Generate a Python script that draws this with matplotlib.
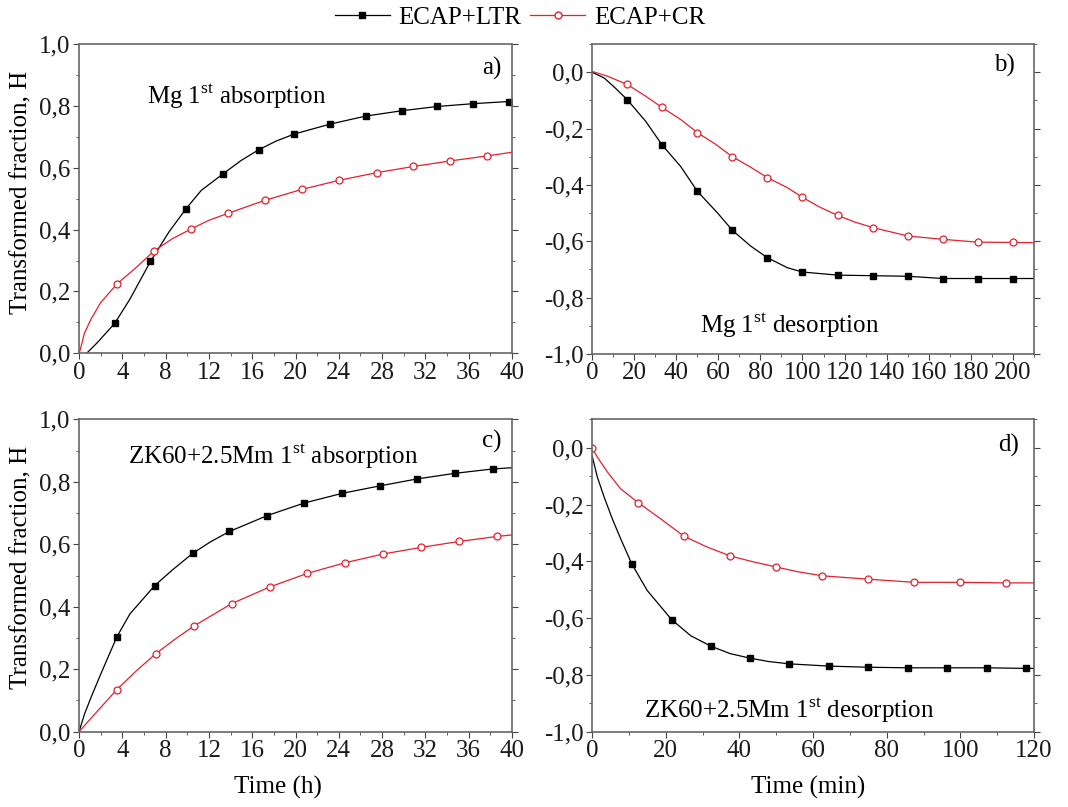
import matplotlib
matplotlib.use("Agg")
import matplotlib.pyplot as plt
from matplotlib.ticker import MultipleLocator, FuncFormatter
from matplotlib.lines import Line2D

plt.rcParams["font.family"] = ["Liberation Serif", "DejaVu Serif"]
plt.rcParams["mathtext.fontset"] = "custom"
plt.rcParams["mathtext.rm"] = "Liberation Serif"
plt.rcParams["font.size"] = 18

BLACK = "black"
RED = "#e3202e"
labels = ["ECAP+LTR", "ECAP+CR"]

# a) Mg 1st absorption, time in h
a_ltr_t = [0.7, 1.7, 3.3, 4.7, 6.6, 8.3, 9.9, 11.3, 13.3, 15.0, 16.6, 18.2, 19.9, 23.2, 26.5, 29.8, 33.1, 36.4, 39.7, 40.0]
a_ltr_h = [0.0, 0.035, 0.097, 0.175, 0.297, 0.392, 0.468, 0.527, 0.58, 0.624, 0.658, 0.686, 0.709, 0.741, 0.767,
           0.784, 0.798, 0.807, 0.814, 0.815]
a_ltr_marks = [2, 4, 6, 8, 10, 12, 13, 14, 15, 16, 17, 18]
a_cr_t = [0.0, 0.1, 0.5, 1.1, 2.0, 3.5, 5.3, 6.9, 8.6, 10.3, 12.0, 13.8, 17.2, 20.6, 24.0, 27.5, 30.9, 34.3, 37.7, 40.0]
a_cr_h = [0.0, 0.01, 0.065, 0.11, 0.164, 0.224, 0.278, 0.330, 0.37, 0.401, 0.43, 0.453, 0.495, 0.530, 0.559, 0.584,
          0.604, 0.622, 0.638, 0.65]
a_cr_marks = [5, 7, 9, 11, 12, 13, 14, 15, 16, 17, 18]

# b) Mg 1st desorption, time in min
b_ltr_t = [0, 5.7, 10.5, 16.7, 25.5, 33.3, 42.2, 50, 59.6, 66.7, 75.4, 83.3, 92.9, 100, 116.7, 133.3, 150, 166.7,
           183.3, 200, 210]
b_ltr_h = [0, -0.02, -0.052, -0.097, -0.174, -0.258, -0.335, -0.422, -0.499, -0.561, -0.617, -0.658, -0.694, -0.709,
           -0.72, -0.722, -0.724, -0.732, -0.732, -0.732, -0.732]
b_ltr_marks = [3, 5, 7, 9, 11, 13, 14, 15, 16, 17, 18, 19]
b_cr_t = [0, 7.3, 16.7, 25.5, 33.3, 42.2, 50, 58.8, 66.7, 75.4, 83.3, 92.9, 100, 108, 116.7, 125, 133.3, 150, 166.7,
          183.3, 200, 210]
b_cr_h = [0.003, -0.014, -0.043, -0.085, -0.125, -0.168, -0.214, -0.256, -0.3, -0.337, -0.374, -0.41, -0.444, -0.478,
          -0.508, -0.532, -0.551, -0.581, -0.593, -0.603, -0.604, -0.605]
b_cr_marks = [2, 4, 6, 8, 10, 12, 14, 16, 17, 18, 19, 20]

# c) ZK60+2.5Mm 1st absorption, time in h
c_ltr_t = [0, 0.5, 1.1, 2.0, 3.5, 4.7, 7.0, 8.6, 10.5, 12.2, 13.9, 17.4, 20.8, 24.3, 27.8, 31.2, 34.7, 38.2, 40]
c_ltr_h = [0, 0.056, 0.109, 0.184, 0.304, 0.377, 0.468, 0.517, 0.571, 0.609, 0.641, 0.692, 0.732, 0.763, 0.787,
           0.809, 0.827, 0.841, 0.845]
c_ltr_marks = [4, 6, 8, 10, 11, 12, 13, 14, 15, 16, 17]
c_cr_t = [0, 1.7, 3.5, 5.3, 7.1, 8.9, 10.6, 14.1, 17.6, 21.1, 24.6, 28.1, 31.6, 35.1, 38.6, 40]
c_cr_h = [0, 0.066, 0.135, 0.195, 0.25, 0.297, 0.338, 0.41, 0.463, 0.507, 0.541, 0.569, 0.59, 0.609, 0.625, 0.63]
c_cr_marks = [2, 4, 6, 7, 8, 9, 10, 11, 12, 13, 14]

# d) ZK60+2.5Mm 1st desorption, time in min
d_ltr_t = [0, 1.45, 3.3, 5.5, 7.8, 10.8, 15.0, 21.6, 26.8, 32.3, 37.5, 42.9, 48, 53.5, 64.3, 75.0, 85.7, 96.3,
           107.1, 117.8, 120]
d_ltr_h = [-0.027, -0.103, -0.174, -0.25, -0.321, -0.409, -0.503, -0.605, -0.662, -0.699, -0.725, -0.741, -0.753,
           -0.761, -0.769, -0.773, -0.775, -0.775, -0.775, -0.777, -0.777]
d_ltr_marks = [5, 7, 9, 11, 13, 14, 15, 16, 17, 18, 19]
d_cr_t = [0, 1.45, 4.2, 7.8, 12.5, 18.6, 25, 31.3, 37.5, 43.5, 50, 56, 62.5, 75, 87.5, 100, 112.5, 120]
d_cr_h = [0.0, -0.033, -0.086, -0.145, -0.193, -0.25, -0.312, -0.35, -0.381, -0.401, -0.42, -0.437, -0.451, -0.463,
          -0.474, -0.474, -0.476, -0.476]
d_cr_marks = [0, 4, 6, 8, 10, 12, 13, 14, 15, 16]


def comma(v, pos):
    s = "%.1f" % v
    if s == "-0.0":
        s = "0.0"
    return s.replace(".", ",")


def style_axes(ax, xmax, xmajor, ymin, ymax):
    ax.set_xlim(0, xmax)
    ax.set_ylim(ymin, ymax)
    ax.xaxis.set_major_locator(MultipleLocator(xmajor))
    ax.xaxis.set_minor_locator(MultipleLocator(xmajor / 2))
    ax.yaxis.set_major_locator(MultipleLocator(0.2))
    ax.yaxis.set_minor_locator(MultipleLocator(0.1))
    ax.yaxis.set_major_formatter(FuncFormatter(comma))
    ax.tick_params(which="both", direction="out", right=True, top=False, colors="#444",
                   labelcolor="#1a1a1a", labelsize=18, pad=2)
    ax.tick_params(which="major", length=4)
    ax.tick_params(which="minor", length=2.5)
    for s in ax.spines.values():
        s.set_color("#666")
        s.set_linewidth(1.2)


def draw(ax, t1, h1, m1, t2, h2, m2):
    ax.plot(t1, h1, color=BLACK, lw=0.9, marker="s", ms=4.2, markevery=m1,
            mfc=BLACK, mec=BLACK)
    ax.plot(t2, h2, color=RED, lw=0.9, marker="o", ms=5, markevery=m2,
            mfc="white", mec=RED, mew=0.9)


fig = plt.figure(figsize=(10.68, 8.07), dpi=100)
ax_a = fig.add_axes([0.074, 0.5622, 0.4054, 0.3833])
ax_b = fig.add_axes([0.5543, 0.5613, 0.4139, 0.3841])
ax_c = fig.add_axes([0.074, 0.0933, 0.4054, 0.3871])
ax_d = fig.add_axes([0.5543, 0.0933, 0.4139, 0.3871])

draw(ax_a, a_ltr_t, a_ltr_h, a_ltr_marks, a_cr_t, a_cr_h, a_cr_marks)
draw(ax_b, b_ltr_t, b_ltr_h, b_ltr_marks, b_cr_t, b_cr_h, b_cr_marks)
draw(ax_c, c_ltr_t, c_ltr_h, c_ltr_marks, c_cr_t, c_cr_h, c_cr_marks)
draw(ax_d, d_ltr_t, d_ltr_h, d_ltr_marks, d_cr_t, d_cr_h, d_cr_marks)

style_axes(ax_a, 40, 4, 0, 1.0)
style_axes(ax_b, 210, 20, -1.0, 0.1)
style_axes(ax_c, 40, 4, 0, 1.0)
style_axes(ax_d, 120, 20, -1.0, 0.1)

for ax in (ax_a, ax_c):
    ax.set_ylabel("Transformed fraction, H", fontsize=18, va="center")
ax_a.yaxis.set_label_coords(-0.132, 0.519)
ax_c.yaxis.set_label_coords(-0.132, 0.527)
ax_c.set_xlabel("Time (h)", fontsize=18, va="center")
ax_c.xaxis.set_label_coords(0.459, -0.18)
ax_d.set_xlabel("Time (min)", fontsize=18, va="center")
ax_d.xaxis.set_label_coords(0.489, -0.18)

ax_a.text(0.953, 0.921, "a)", transform=ax_a.transAxes, ha="center", va="center")
ax_b.text(0.934, 0.932, "b)", transform=ax_b.transAxes, ha="center", va="center")
ax_c.text(0.953, 0.928, "c)", transform=ax_c.transAxes, ha="center", va="center")
ax_d.text(0.942, 0.917, "d)", transform=ax_d.transAxes, ha="center", va="center")

ax_a.text(0.156, 0.83, r"Mg 1$^{\rm st}$ absorption", transform=ax_a.transAxes, ha="left", va="center")
ax_b.text(0.244, 0.094, r"Mg 1$^{\rm st}$ desorption", transform=ax_b.transAxes, ha="left", va="center")
ax_c.text(0.113, 0.88, r"ZK60+2.5Mm 1$^{\rm st}$ absorption", transform=ax_c.transAxes, ha="left", va="center")
ax_d.text(0.118, 0.069, r"ZK60+2.5Mm 1$^{\rm st}$ desorption", transform=ax_d.transAxes, ha="left", va="center")

handles = [
    Line2D([], [], color=BLACK, lw=0.9, marker="s", ms=4.2, mfc=BLACK, mec=BLACK),
    Line2D([], [], color=RED, lw=0.9, marker="o", ms=5, mfc="white", mec=RED),
]
fig.legend(handles, labels, loc="center", bbox_to_anchor=(0.487, 0.978), ncol=2, frameon=False,
           fontsize=18, handlelength=2.2, handletextpad=0.35, columnspacing=0.35)

fig.savefig("out.png", dpi=100)
